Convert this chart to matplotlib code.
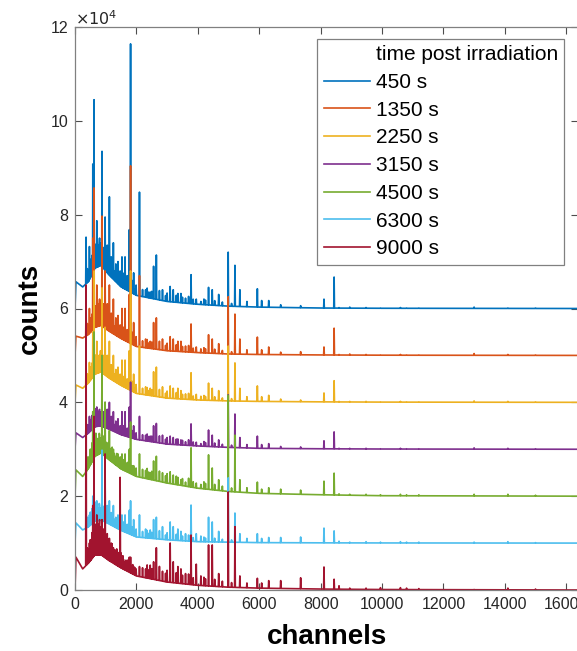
import numpy as np
import matplotlib
matplotlib.use("Agg")
import matplotlib.pyplot as plt
from matplotlib.lines import Line2D
from matplotlib.ticker import FuncFormatter

plt.rcParams['font.family'] = ['Liberation Sans', 'DejaVu Sans']

# gamma spectra, counts in units of 1e4, each series shifted up by 1e4
labels = ['450 s', '1350 s', '2250 s', '3150 s', '4500 s', '6300 s', '9000 s']
offsets = [6, 5, 4, 3, 2, 1, 0]
colors = ['#0072BD', '#D95319', '#EDB120', '#7E2F8E', '#77AC30', '#4DBEEE', '#A2142F']

# continuum (Compton background) knots
cont_ch = [0, 30, 250, 450, 650, 850, 1100, 1500, 2000, 3000, 4000, 5000, 6000, 8000, 10000, 16384]
cont_450 = [0, 0.57, 0.46, 0.58, 0.86, 0.92, 0.72, 0.46, 0.28, 0.15, 0.09, 0.05, 0.03, 0.01, 0.005, 0]
cont_1350 = [0, 0.41, 0.37, 0.45, 0.60, 0.64, 0.52, 0.36, 0.19, 0.10, 0.06, 0.03, 0.02, 0.01, 0.005, 0]
cont_2250 = [0, 0.37, 0.30, 0.42, 0.60, 0.65, 0.52, 0.36, 0.19, 0.09, 0.05, 0.03, 0.02, 0.01, 0.005, 0]
cont_3150 = [0, 0.35, 0.25, 0.35, 0.48, 0.50, 0.43, 0.31, 0.21, 0.11, 0.07, 0.04, 0.02, 0.01, 0.005, 0]
cont_4500 = [0, 0.56, 0.42, 0.60, 0.85, 0.92, 0.78, 0.58, 0.42, 0.28, 0.17, 0.10, 0.06, 0.03, 0.01, 0]
cont_6300 = [0, 0.43, 0.28, 0.35, 0.47, 0.49, 0.41, 0.27, 0.13, 0.07, 0.03, 0.02, 0.01, 0.005, 0.003, 0]
cont_9000 = [0, 0.70, 0.45, 0.58, 0.75, 0.75, 0.63, 0.47, 0.30, 0.17, 0.10, 0.06, 0.04, 0.02, 0.01, 0]

# main peak channels and peak tops (above each series' offset)
peak_ch = [360, 470, 520, 540, 580, 620, 660, 710, 750, 770, 800, 830, 880, 920, 980, 1050,
           1120, 1180, 1250, 1330, 1400, 1470, 1530, 1580, 1630, 1700, 1770, 1810, 1850, 1910,
           1990, 2100, 2300, 2450, 2560, 2650, 2850, 3100, 3200, 3350, 3450, 3600, 3780, 3950,
           4100, 4350, 4470, 4680, 4990, 5210, 5370, 5600, 5940, 6080, 6310, 6700, 7350, 8110,
           8440, 8600, 8950, 9480, 9950, 10600, 10800, 11200, 13000, 14100, 15000]
peaks_450 = [1.52, 1.32, 1.05, 0.95, 3.08, 4.45, 1.25, 1.87, 1.35, 1.2, 1.5, 1.4, 3.35, 1.3, 1.95, 1.35,
             2.38, 1.1, 1.4, 0.95, 1.0, 0.8, 1.1, 0.75, 1.1, 0.7, 1.68, 5.64, 0.6, 0.76,
             0.5, 2.48, 0.4, 0.35, 0.9, 1.14, 0.4, 0.47, 0.4, 0.32, 0.32, 0.22, 0.72, 0.2,
             0.15, 0.45, 0.4, 0.3, 1.2, 0.92, 0.4, 0.15, 0.42, 0.17, 0.17, 0.08, 0.06, 0.2,
             0.67, 0.02, 0.03, 0.02, 0.01, 0.02, 0.01, 0.01, 0.03, 0.01, 0.01]
peaks_1350 = [1.1, 1.0, 0.8, 0.75, 2.5, 3.57, 1.0, 1.5, 1.1, 1.0, 1.2, 1.15, 2.97, 1.1, 1.8, 1.1,
              1.5, 0.9, 1.2, 0.8, 0.85, 0.65, 1.0, 0.6, 1.0, 0.55, 1.3, 4.04, 0.5, 0.7,
              0.4, 1.7, 0.35, 0.3, 0.7, 0.8, 0.35, 0.4, 0.35, 0.3, 0.3, 0.2, 0.67, 0.18,
              0.14, 0.44, 0.35, 0.25, 1.25, 0.88, 0.35, 0.12, 0.39, 0.12, 0.18, 0.07, 0.08, 0.18,
              0.58, 0.02, 0.03, 0.02, 0.01, 0.02, 0.01, 0.01, 0.04, 0.02, 0.01]
peaks_2250 = [0.9, 0.85, 0.75, 0.7, 1.5, 2.8, 0.95, 1.3, 1.0, 0.95, 1.0, 1.1, 2.44, 1.0, 1.6, 1.0,
              1.3, 0.8, 1.0, 0.7, 0.75, 0.6, 0.9, 0.55, 0.9, 0.5, 1.1, 2.8, 0.45, 0.6,
              0.38, 1.2, 0.33, 0.3, 0.65, 0.75, 0.33, 0.35, 0.3, 0.3, 0.25, 0.18, 0.63, 0.17,
              0.13, 0.41, 0.3, 0.25, 1.2, 0.84, 0.3, 0.12, 0.35, 0.12, 0.15, 0.07, 0.05, 0.2,
              0.46, 0.02, 0.02, 0.02, 0.01, 0.02, 0.01, 0.01, 0.03, 0.02, 0.01]
peaks_3150 = [0.6, 0.7, 0.6, 0.55, 0.8, 1.0, 0.75, 0.9, 0.8, 0.75, 0.85, 0.8, 1.97, 0.8, 1.0, 0.85,
              1.0, 0.7, 0.8, 0.6, 0.65, 0.5, 0.8, 0.5, 0.8, 0.45, 0.9, 1.43, 0.4, 0.5,
              0.35, 0.7, 0.3, 0.28, 0.5, 0.55, 0.3, 0.28, 0.25, 0.22, 0.2, 0.16, 0.54, 0.15,
              0.12, 0.41, 0.3, 0.2, 1.16, 0.75, 0.25, 0.1, 0.28, 0.1, 0.12, 0.06, 0.05, 0.18,
              0.37, 0.02, 0.02, 0.02, 0.01, 0.02, 0.01, 0.01, 0.03, 0.02, 0.01]
peaks_4500 = [0.75, 0.85, 0.9, 0.85, 1.8, 3.5, 1.1, 1.2, 1.15, 1.1, 1.3, 1.2, 3.0, 1.2, 2.0, 1.1,
              1.4, 0.95, 1.0, 0.85, 0.9, 0.75, 0.9, 0.75, 0.9, 0.7, 1.0, 1.58, 0.65, 0.65,
              0.6, 0.9, 0.55, 0.5, 0.75, 0.85, 0.5, 0.52, 0.45, 0.4, 0.35, 0.3, 1.03, 0.28,
              0.25, 0.88, 0.6, 0.35, 2.15, 1.3, 0.35, 0.18, 0.3, 0.15, 0.18, 0.15, 0.13, 0.32,
              0.49, 0.05, 0.04, 0.04, 0.03, 0.04, 0.03, 0.03, 0.04, 0.04, 0.02]
peaks_6300 = [0.5, 0.6, 0.55, 0.5, 1.0, 1.7, 0.7, 0.9, 0.75, 0.7, 0.8, 0.75, 1.98, 0.75, 1.4, 0.8,
              0.9, 0.65, 0.8, 0.55, 0.6, 0.5, 0.6, 0.45, 0.6, 0.4, 0.7, 0.9, 0.35, 0.5,
              0.3, 0.6, 0.3, 0.28, 0.5, 0.55, 0.35, 0.45, 0.35, 0.3, 0.25, 0.2, 0.81, 0.2,
              0.15, 0.55, 0.45, 0.25, 1.39, 0.64, 0.2, 0.1, 0.2, 0.1, 0.12, 0.12, 0.13, 0.32,
              0.26, 0.04, 0.02, 0.03, 0.02, 0.03, 0.02, 0.02, 0.02, 0.03, 0.01]
peaks_9000 = [6.5, 1.0, 1.0, 0.95, 1.8, 3.7, 1.3, 1.6, 1.4, 1.3, 1.5, 1.35, 1.5, 1.3, 2.9, 1.2,
              1.1, 1.0, 0.9, 0.85, 0.8, 2.4, 0.7, 0.65, 0.6, 0.55, 0.7, 0.7, 0.5, 0.5,
              0.45, 0.5, 0.45, 0.53, 0.6, 0.9, 0.4, 1.0, 0.6, 0.5, 0.45, 0.35, 1.17, 0.55,
              0.3, 0.96, 0.96, 0.35, 2.09, 1.35, 0.3, 0.15, 0.25, 0.15, 0.2, 0.2, 0.26, 0.49,
              0.23, 0.09, 0.04, 0.04, 0.05, 0.05, 0.04, 0.03, 0.01, 0.04, 0.02]

# small peaks, heights above the continuum
minor_ch = [400, 430, 500, 560, 600, 640, 680, 730, 790, 850, 900, 950, 1010, 1080, 1150, 1210,
            1280, 1360, 1430, 1500, 1560, 1660, 1730, 1880, 1950, 2200, 2350, 2400, 2500, 2750,
            2950, 3000, 3300, 3500, 3700, 3850, 4200, 4250, 4550, 4800, 5100]
minor_450 = [0.30, 0.25, 0.35, 0.40, 0.45, 0.40, 0.50, 0.35, 0.45, 0.30, 0.40, 0.35, 0.30, 0.35, 0.25, 0.30,
             0.20, 0.25, 0.20, 0.25, 0.20, 0.15, 0.20, 0.15, 0.12, 0.15, 0.20, 0.12, 0.15, 0.20,
             0.12, 0.18, 0.15, 0.12, 0.15, 0.10, 0.12, 0.10, 0.10, 0.08, 0.06]
minor_1350 = [0.25, 0.20, 0.30, 0.35, 0.40, 0.35, 0.45, 0.30, 0.40, 0.28, 0.35, 0.30, 0.28, 0.30, 0.22, 0.28,
              0.18, 0.22, 0.18, 0.22, 0.18, 0.14, 0.18, 0.14, 0.11, 0.14, 0.18, 0.11, 0.14, 0.18,
              0.11, 0.16, 0.14, 0.11, 0.14, 0.09, 0.11, 0.09, 0.09, 0.07, 0.05]
minor_2250 = [0.22, 0.18, 0.28, 0.32, 0.38, 0.32, 0.40, 0.28, 0.36, 0.25, 0.32, 0.28, 0.25, 0.28, 0.20, 0.25,
              0.16, 0.20, 0.16, 0.20, 0.16, 0.13, 0.16, 0.13, 0.10, 0.13, 0.16, 0.10, 0.13, 0.16,
              0.10, 0.15, 0.13, 0.10, 0.13, 0.08, 0.10, 0.08, 0.08, 0.06, 0.05]
minor_3150 = [0.20, 0.18, 0.25, 0.30, 0.35, 0.30, 0.38, 0.26, 0.34, 0.24, 0.30, 0.26, 0.24, 0.26, 0.19, 0.24,
              0.15, 0.19, 0.15, 0.19, 0.15, 0.12, 0.15, 0.12, 0.10, 0.12, 0.15, 0.10, 0.12, 0.15,
              0.10, 0.14, 0.12, 0.10, 0.12, 0.08, 0.10, 0.08, 0.08, 0.06, 0.05]
minor_4500 = [0.28, 0.24, 0.34, 0.40, 0.45, 0.40, 0.48, 0.35, 0.44, 0.32, 0.40, 0.35, 0.32, 0.35, 0.26, 0.32,
              0.22, 0.26, 0.22, 0.26, 0.22, 0.18, 0.22, 0.18, 0.15, 0.18, 0.22, 0.15, 0.18, 0.22,
              0.15, 0.20, 0.18, 0.15, 0.18, 0.12, 0.15, 0.12, 0.12, 0.10, 0.08]
minor_6300 = [0.22, 0.18, 0.28, 0.32, 0.36, 0.32, 0.40, 0.28, 0.36, 0.25, 0.32, 0.28, 0.25, 0.28, 0.20, 0.25,
              0.16, 0.20, 0.16, 0.20, 0.16, 0.13, 0.16, 0.13, 0.10, 0.13, 0.16, 0.10, 0.13, 0.18,
              0.10, 0.15, 0.13, 0.10, 0.13, 0.08, 0.10, 0.08, 0.08, 0.06, 0.05]
minor_9000 = [0.35, 0.30, 0.45, 0.55, 0.60, 0.55, 0.65, 0.50, 0.60, 0.45, 0.55, 0.50, 0.45, 0.45, 0.35, 0.40,
              0.30, 0.35, 0.28, 0.32, 0.28, 0.22, 0.25, 0.20, 0.16, 0.20, 0.28, 0.18, 0.22, 0.30,
              0.18, 0.25, 0.22, 0.18, 0.22, 0.15, 0.18, 0.15, 0.15, 0.12, 0.10]

conts = [cont_450, cont_1350, cont_2250, cont_3150, cont_4500, cont_6300, cont_9000]
peaks = [peaks_450, peaks_1350, peaks_2250, peaks_3150, peaks_4500, peaks_6300, peaks_9000]
minors = [minor_450, minor_1350, minor_2250, minor_3150, minor_4500, minor_6300, minor_9000]

fig = plt.figure(figsize=(5.77, 6.51), dpi=100)
ax = fig.add_axes([75 / 577, 61 / 651, 503 / 577, 563 / 651])

w = 12  # half width of a peak in channels
pc = np.array(peak_ch, dtype=float)
mc = np.array(minor_ch, dtype=float)
handles = []
for lab, off, col, cont, pk, mn in zip(labels, offsets, colors, conts, peaks, minors):
    xs = np.concatenate([cont_ch, pc - w, pc, pc + w, mc - w, mc, mc + w])
    xs = np.sort(xs, kind='stable')
    ys = np.interp(xs, cont_ch, cont)
    tops = dict(zip(peak_ch, pk))
    bumps = dict(zip(minor_ch, mn))
    for i, x in enumerate(xs):
        if x in tops:
            ys[i] = max(ys[i], tops[x])
        elif x in bumps:
            ys[i] = ys[i] + bumps[x]
    h, = ax.plot(xs, (ys + off) * 1e4, color=col, lw=1.2, label=lab)
    handles.append(h)

ax.set_xlim(0, 16384)
ax.set_ylim(0, 12e4)
ax.set_xticks(np.arange(0, 16001, 2000))
ax.set_yticks(np.arange(0, 12.1e4, 2e4))
ax.yaxis.set_major_formatter(FuncFormatter(lambda v, p: f'{v / 1e4:g}'))
ax.tick_params(direction='in', top=True, right=True, length=5, width=0.8,
               colors='#4d4d4d', labelcolor='#262626', labelsize=11.5, pad=5)
for s in ax.spines.values():
    s.set_color('#808080')
    s.set_linewidth(0.9)

ax.text(0.0, 0.998, r'$\times10^{4}$', transform=ax.transAxes, fontsize=11.5,
        color='#262626', ha='left', va='bottom')
ax.set_xlabel('channels', fontsize=20, fontweight='bold', labelpad=9)
ax.set_ylabel('counts', fontsize=20, fontweight='bold', labelpad=5)

title_h = Line2D([], [], color='none')
leg = ax.legend([title_h] + handles, ['time post irradiation'] + labels,
                loc='upper left', bbox_to_anchor=(0.482, 0.979), fontsize=15,
                frameon=True, fancybox=False, framealpha=1, edgecolor='#808080',
                handlelength=2.2, handletextpad=0.3, labelspacing=0.42, borderpad=0.3,
                borderaxespad=0)
leg.get_frame().set_linewidth(0.9)

fig.savefig('out.png', dpi=100)
